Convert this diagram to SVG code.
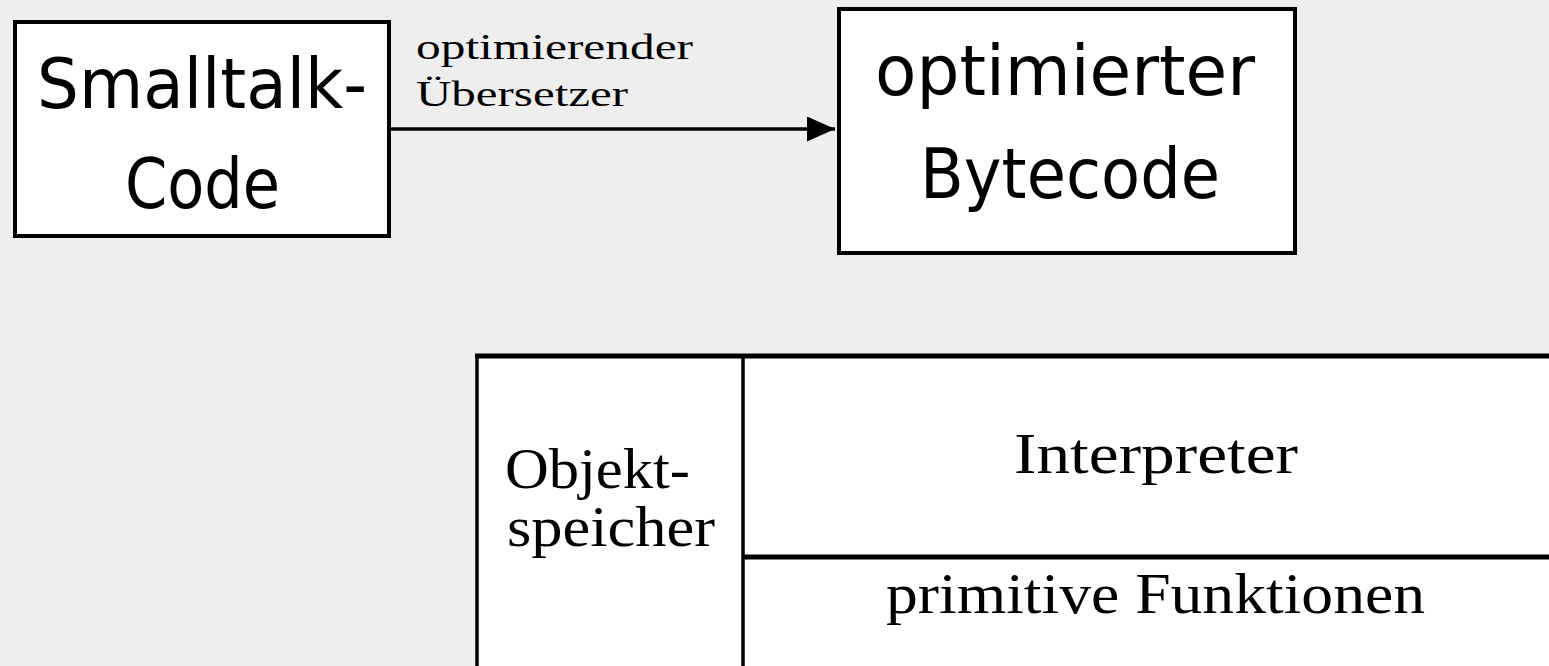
<svg xmlns="http://www.w3.org/2000/svg" width="1549" height="666" viewBox="0 0 1549 666">
  <defs>
    <style>
      .box { fill: #ffffff; stroke: #000000; stroke-width: 4; }
      .hand { font-family: "Comic Sans MS", "DejaVu Sans", sans-serif; font-size: 70px; fill: #000000; }
      .serif { font-family: "Liberation Serif", "DejaVu Serif", serif; fill: #000000; }
      .lbl { font-size: 35px; }
      .big { font-size: 57px; }
      .edge { stroke: #000000; stroke-width: 3.5; fill: none; }
      .thick { stroke: #000000; stroke-width: 5; fill: none; }
    </style>
    <marker id="arrow" markerUnits="userSpaceOnUse" markerWidth="30" markerHeight="26" refX="28" refY="12.5" orient="auto">
      <polygon points="0,0 28,12.5 0,25" fill="#000000"/>
    </marker>
  </defs>
  <rect x="0" y="0" width="1549" height="666" fill="#eeeeee"/>

  <g id="connectors">
    <line class="edge" x1="389" y1="129" x2="835" y2="129" marker-end="url(#arrow)"/>
    <text class="serif lbl" x="416" y="59" textLength="277" lengthAdjust="spacingAndGlyphs">optimierender</text>
    <text class="serif lbl" x="416" y="106" textLength="212" lengthAdjust="spacingAndGlyphs">Übersetzer</text>
  </g>

  <g id="smalltalk-code">
    <rect class="box" x="15" y="22" width="374" height="214"/>
    <text class="hand" x="37" y="108" textLength="330" lengthAdjust="spacingAndGlyphs">Smalltalk-</text>
    <text class="hand" x="125" y="208" textLength="155" lengthAdjust="spacingAndGlyphs">Code</text>
  </g>

  <g id="optimized-bytecode">
    <rect class="box" x="839" y="9" width="456" height="244"/>
    <text class="hand" x="875" y="95" textLength="380" lengthAdjust="spacingAndGlyphs">optimierter</text>
    <text class="hand" x="920" y="198" textLength="300" lengthAdjust="spacingAndGlyphs">Bytecode</text>
  </g>

  <g id="virtual-machine">
    <rect x="476" y="356" width="1100" height="340" fill="#ffffff"/>
    <line class="thick" x1="475" y1="356" x2="1549" y2="356"/>
    <line class="edge" x1="477" y1="354" x2="477" y2="666"/>
  </g>

  <g id="objektspeicher">
    <line class="edge" x1="743" y1="356" x2="743" y2="666"/>
    <text class="serif big" x="505" y="488" textLength="185" lengthAdjust="spacingAndGlyphs">Objekt-</text>
    <text class="serif big" x="507" y="546" textLength="208" lengthAdjust="spacingAndGlyphs">speicher</text>
  </g>

  <g id="interpreter">
    <text class="serif big" x="1014" y="473" textLength="284" lengthAdjust="spacingAndGlyphs">Interpreter</text>
  </g>

  <g id="primitive-funktionen">
    <line class="thick" x1="743" y1="557" x2="1549" y2="557"/>
    <text class="serif big" x="886" y="613" textLength="539" lengthAdjust="spacingAndGlyphs">primitive Funktionen</text>
  </g>
</svg>
